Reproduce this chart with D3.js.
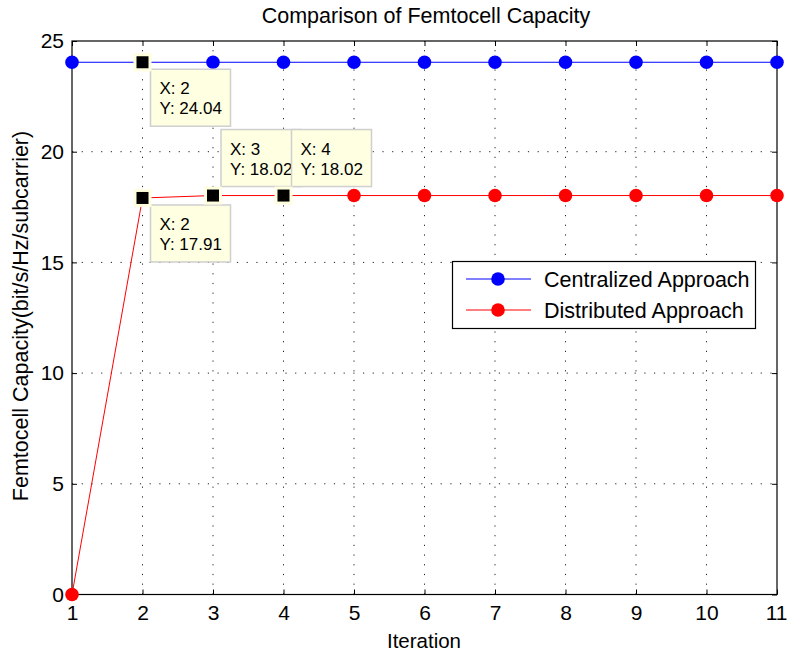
<!DOCTYPE html>
<html><head><meta charset="utf-8">
<script src="https://cdn.jsdelivr.net/npm/d3@7"></script>
<style>body{margin:0;background:#fff}svg{display:block;font-family:"Liberation Sans",Arial,sans-serif}</style>
</head><body><svg id="c" width="787" height="653"></svg>
<script>
const iterations = [1,2,3,4,5,6,7,8,9,10,11];
const centralized = [24.04,24.04,24.04,24.04,24.04,24.04,24.04,24.04,24.04,24.04,24.04];
const distributed = [0,17.91,18.02,18.02,18.02,18.02,18.02,18.02,18.02,18.02,18.02];
const xTicks = [1,2,3,4,5,6,7,8,9,10,11];
const yTicks = [0,5,10,15,20,25];
const seriesNames = ["Centralized Approach","Distributed Approach"];
const seriesColors = ["#0000ff","#ff0000"];
const dataTips = [
  {x:2, y:24.04, pos:"below"},
  {x:2, y:17.91, pos:"below"},
  {x:3, y:18.02, pos:"above"},
  {x:4, y:18.02, pos:"above"}
];

const svg = d3.select("#c");
const L=72, R=777, T=41, B=594.5;
const FS = 21.5;
const x = d3.scaleLinear().domain([1,11]).range([L,R]);
const y = d3.scaleLinear().domain([0,25]).range([B,T]);

// grid
const g = svg.append("g");
g.selectAll(".gx").data(xTicks.slice(1,-1)).enter().append("line")
  .attr("x1",d=>x(d)).attr("x2",d=>x(d)).attr("y1",B).attr("y2",T)
  .attr("stroke","#222").attr("stroke-width",1).attr("stroke-dasharray","1.2,8.5");
g.selectAll(".gy").data(yTicks.slice(1,-1)).enter().append("line")
  .attr("y1",d=>y(d)).attr("y2",d=>y(d)).attr("x1",L).attr("x2",R)
  .attr("stroke","#222").attr("stroke-width",1).attr("stroke-dasharray","1.2,8.5");

// axes
const xAxis = d3.axisBottom(x).tickValues(xTicks).tickSize(-5).tickPadding(11).tickFormat(d3.format("d"));
const yAxis = d3.axisLeft(y).tickValues(yTicks).tickSize(-5).tickPadding(8).tickFormat(d3.format("d"));
const xa = svg.append("g").attr("transform",`translate(0,${B})`).call(xAxis);
const ya = svg.append("g").attr("transform",`translate(${L},0)`).call(yAxis);
const xt = svg.append("g").attr("transform",`translate(0,${T})`).call(d3.axisTop(x).tickValues(xTicks).tickSize(-5).tickFormat(""));
const yr = svg.append("g").attr("transform",`translate(${R},0)`).call(d3.axisRight(y).tickValues(yTicks).tickSize(-5).tickFormat(""));
[xa,ya,xt,yr].forEach(a=>{
  a.select(".domain").remove();
  a.selectAll("line").attr("stroke","#000");
  a.selectAll("text").attr("font-size",FS-0.5).attr("fill","#000").attr("font-family","Liberation Sans, Arial, sans-serif");
});
// keep the last x tick label inside the page
xa.selectAll(".tick text").filter(d=>d===xTicks[xTicks.length-1])
  .attr("text-anchor","end").attr("x",787-R);
svg.append("rect").attr("x",L).attr("y",T).attr("width",R-L).attr("height",B-T)
  .attr("fill","none").attr("stroke","#000").attr("stroke-width",1.2);

// series
const line = d3.line().x((d,i)=>x(iterations[i])).y(d=>y(d));
[centralized,distributed].forEach((s,k)=>{
  svg.append("path").datum(s).attr("d",line).attr("fill","none").attr("stroke",seriesColors[k]).attr("stroke-width",1);
  svg.append("g").selectAll("circle").data(s).enter().append("circle")
    .attr("cx",(d,i)=>x(iterations[i])).attr("cy",d=>y(d)).attr("r",6.8).attr("fill",seriesColors[k]);
});

// data tips
const tipBoxes = svg.append("g");
dataTips.forEach(t=>{
  const px=x(t.x), py=y(t.y);
  svg.append("rect").attr("x",px-9).attr("y",py-9).attr("width",18).attr("height",18).attr("fill","#ffffe0");
  svg.append("rect").attr("x",px-6).attr("y",py-6).attr("width",12).attr("height",12).attr("fill","#000");
  const bx = px+8, by = t.pos==="below" ? py+7 : py-66;
  const gb = tipBoxes.append("g");
  gb.append("rect").attr("x",bx).attr("y",by).attr("width",80).attr("height",57)
    .attr("fill","#ffffe1").attr("stroke","#cfcfcf").attr("stroke-width",1.5);
  gb.append("text").attr("x",bx+9).attr("y",by+25).attr("font-size",17).text("X: "+t.x);
  gb.append("text").attr("x",bx+9).attr("y",by+45).attr("font-size",17).text("Y: "+t.y.toFixed(2));
});

// legend
const lg = svg.append("g");
lg.append("rect").attr("x",452.5).attr("y",261.5).attr("width",303).attr("height",67)
  .attr("fill","#fff").attr("stroke","#000").attr("stroke-width",1.2);
seriesNames.forEach((n,k)=>{
  const yy = 279 + k*31;
  lg.append("line").attr("x1",466).attr("x2",531).attr("y1",yy).attr("y2",yy).attr("stroke",seriesColors[k]);
  lg.append("circle").attr("cx",498).attr("cy",yy).attr("r",6.8).attr("fill",seriesColors[k]);
  lg.append("text").attr("x",544).attr("y",yy+7.5).attr("font-size",FS).text(n);
});

// labels
svg.append("text").attr("x",426).attr("y",23).attr("text-anchor","middle").attr("font-size",FS).text("Comparison of Femtocell Capacity");
svg.append("text").attr("x",424).attr("y",648).attr("text-anchor","middle").attr("font-size",20.5).text("Iteration");
svg.append("text").attr("transform","translate(28,316) rotate(-90)").attr("text-anchor","middle").attr("font-size",FS).text("Femtocell Capacity(bit/s/Hz/subcarrier)");
</script></body></html>
